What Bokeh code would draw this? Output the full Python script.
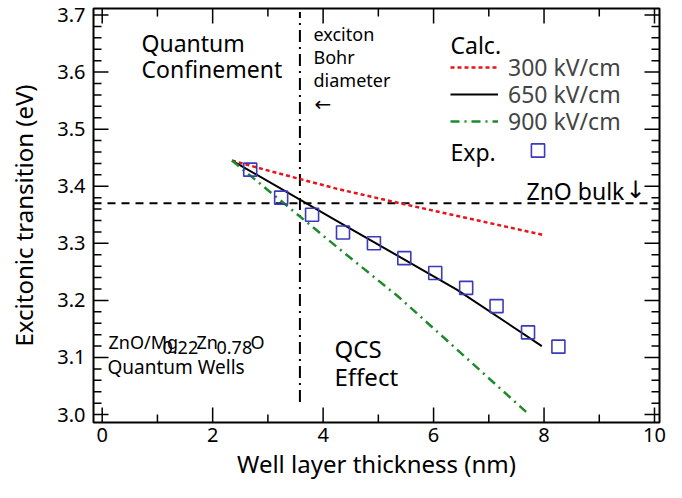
import math
from bokeh.plotting import figure
from bokeh.models import Range1d, Label, Legend, LegendItem, FixedTicker, PrintfTickFormatter
from bokeh.embed import file_html
from bokeh.resources import INLINE

FONT = "Noto Sans"
SYM_FONT = "DejaVu Sans"

# ---- data ----
exp_x = [2.68, 3.24, 3.80, 4.36, 4.92, 5.47, 6.03, 6.59, 7.14, 7.71, 8.26]
exp_y = [3.429, 3.380, 3.350, 3.319, 3.300, 3.274, 3.248, 3.222, 3.190, 3.144, 3.119]

calc300_x = [2.35, 3.02, 4.27, 5.40, 7.97]
calc300_y = [3.445, 3.427, 3.395, 3.370, 3.315]

calc650_x = [2.35, 4.27, 6.42, 7.96]
calc650_y = [3.445, 3.338, 3.219, 3.120]

calc900_x = [2.35, 4.27, 5.38, 7.73]
calc900_y = [3.445, 3.292, 3.205, 3.000]

bulk_energy = 3.37          # ZnO bulk exciton energy (eV)
bohr_diameter = 3.58        # exciton Bohr diameter (nm)
bohr_span = [3.022, 3.705]  # vertical extent of the Bohr line (eV)

series_labels = ["300 kV/cm", "650 kV/cm", "900 kV/cm"]

x_ticks = [0, 2, 4, 6, 8, 10]
x_minor = [1, 3, 5, 7, 9]
y_ticks = [3.0, 3.1, 3.2, 3.3, 3.4, 3.5, 3.6, 3.7]
y_minor = [round(3.0 + 0.02 * i, 2) for i in range(36) if i % 5]

RED = "#e8141c"
GREEN = "#1f8a2a"
BLUE = "#3b3bb8"

# ---- layout (pixels) ----
W, H = 666, 482
FL, FR, FT, FB = 93, 659, 8, 424      # frame edges
X0PX, XSCALE = 101.7, 55.23           # pixel of x=0, px per nm
Y37PX, YSCALE = 14.5, 573.6           # pixel of y=3.7, px per eV

x_start = (FL - X0PX) / XSCALE
x_end = (FR - X0PX) / XSCALE
y_end = 3.7 + (Y37PX - FT) / YSCALE
y_start = 3.7 - (FB - Y37PX) / YSCALE

def dx(px):
    return (px - X0PX) / XSCALE

def dy(py):
    return 3.7 - (py - Y37PX) / YSCALE

p = figure(width=W, height=H, output_backend="svg", toolbar_location=None,
           x_range=Range1d(x_start, x_end), y_range=Range1d(y_start, y_end),
           min_border_left=FL, min_border_right=W - FR, min_border_top=FT,
           min_border_bottom=H - FB)
p.grid.visible = False
p.outline_line_color = "black"
p.outline_line_width = 2
p.background_fill_color = "white"
p.border_fill_color = "white"

xa = p.xaxis[0]
ya = p.yaxis[0]
xa.ticker = FixedTicker(ticks=x_ticks, minor_ticks=x_minor)
ya.ticker = FixedTicker(ticks=y_ticks, minor_ticks=y_minor)
ya.formatter = PrintfTickFormatter(format="%.1f")
for ax in (xa, ya):
    ax.major_tick_in = 0
    ax.major_tick_out = 0
    ax.minor_tick_in = 0
    ax.minor_tick_out = 0
    ax.axis_line_color = None
    ax.major_label_text_font = FONT
    ax.major_label_text_font_size = "20px"
    ax.major_label_text_color = "black"
    ax.axis_label_text_font = FONT
    ax.axis_label_text_font_size = "24px"
    ax.axis_label_text_font_style = "normal"
    ax.axis_label_text_color = "black"
xa.axis_label = "Well layer thickness (nm)"
ya.axis_label = "Excitonic transition (eV)"
xa.major_label_standoff = 5
xa.axis_label_standoff = 2
ya.major_label_standoff = 8
ya.axis_label_standoff = 14

# inward ticks on all four sides of the frame
MAJ, MIN = 15, 8
tick_kw = dict(line_color="black", line_width=1.5, length_units="screen")
p.ray(x=x_ticks, y=[y_start] * len(x_ticks), length=MAJ, angle=math.pi / 2, **tick_kw)
p.ray(x=x_minor, y=[y_start] * len(x_minor), length=MIN, angle=math.pi / 2, **tick_kw)
p.ray(x=x_ticks, y=[y_end] * len(x_ticks), length=MAJ, angle=-math.pi / 2, **tick_kw)
p.ray(x=x_minor, y=[y_end] * len(x_minor), length=MIN, angle=-math.pi / 2, **tick_kw)
p.ray(x=[x_start] * len(y_ticks), y=y_ticks, length=MAJ, angle=0, **tick_kw)
p.ray(x=[x_start] * len(y_minor), y=y_minor, length=MIN, angle=0, **tick_kw)
p.ray(x=[x_end] * len(y_ticks), y=y_ticks, length=MAJ, angle=math.pi, **tick_kw)
p.ray(x=[x_end] * len(y_minor), y=y_minor, length=MIN, angle=math.pi, **tick_kw)

# reference lines
p.line([x_start, x_end], [bulk_energy, bulk_energy],
       line_color="black", line_width=2, line_dash="8 6")
p.segment(x0=[bohr_diameter], y0=[bohr_span[0]], x1=[bohr_diameter], y1=[bohr_span[1]],
          line_color="black", line_width=2, line_dash="12 5 2 5")

# calculated curves
r300 = p.line(calc300_x, calc300_y, line_color=RED, line_width=2.5, line_dash="4 3")
r650 = p.line(calc650_x, calc650_y, line_color="black", line_width=2)
r900 = p.line(calc900_x, calc900_y, line_color=GREEN, line_width=2.5, line_dash="9 5 2 5")

# experiment
rexp = p.scatter(exp_x, exp_y, marker="square", size=13, fill_color=None,
                 line_color=BLUE, line_width=1.6)

# legend: one single-item legend per row so each row sits where the reference has it
ITEM_H = 40
def legend_row(renderer, label, left_px, center_py, glyph_w, font_size="23px", standoff=10):
    lg = Legend(items=[LegendItem(label=label, renderers=[renderer])],
                location=(left_px - FL, FB - (center_py + ITEM_H / 2)))
    lg.label_text_font = FONT
    lg.label_text_font_size = font_size
    lg.glyph_width = glyph_w
    lg.glyph_height = ITEM_H
    lg.label_height = ITEM_H
    lg.label_standoff = standoff
    lg.padding = 0
    lg.margin = 0
    lg.spacing = 0
    lg.border_line_color = None
    lg.background_fill_alpha = 0
    p.add_layout(lg)

legend_row(r300, series_labels[0], 450, 69, 48)
legend_row(r650, series_labels[1], 450, 96, 48)
legend_row(r900, series_labels[2], 450, 123, 48)
legend_row(rexp, " ", 537 - 16, 152, 33, font_size="1px", standoff=0)

def txt(px, py, s, size, baseline="middle", font=FONT):
    p.add_layout(Label(x=dx(px), y=dy(py), text=s, text_font=font, text_font_size=size,
                       text_baseline=baseline, text_color="black"))

txt(450, 45, "Calc.", "23px")
txt(450, 152, "Exp.", "23px")

txt(141, 43, "Quantum", "23px")
txt(141, 69, "Confinement", "23px")
txt(313, 34, "exciton", "18px")
txt(313, 57, "Bohr", "18px")
txt(313, 80, "diameter", "18px")
txt(314, 104, "\u2190", "20px", font=SYM_FONT)
txt(526, 191, "ZnO bulk", "23px")
txt(625, 190, "\u2193", "24px", font=SYM_FONT)
txt(334, 350, "QCS", "24px")
txt(334, 378, "Effect", "24px")

txt(108, 343, "ZnO/Mg", "18px", "alphabetic")
txt(162, 349, "0.22", "18px", "alphabetic")
txt(196, 343, "Zn", "18px", "alphabetic")
txt(216, 349, "0.78", "18px", "alphabetic")
txt(250, 343, "O", "18px", "alphabetic")
txt(107, 368, "Quantum Wells", "19px", "alphabetic")

open("out.html", "w").write(file_html(p, INLINE))
